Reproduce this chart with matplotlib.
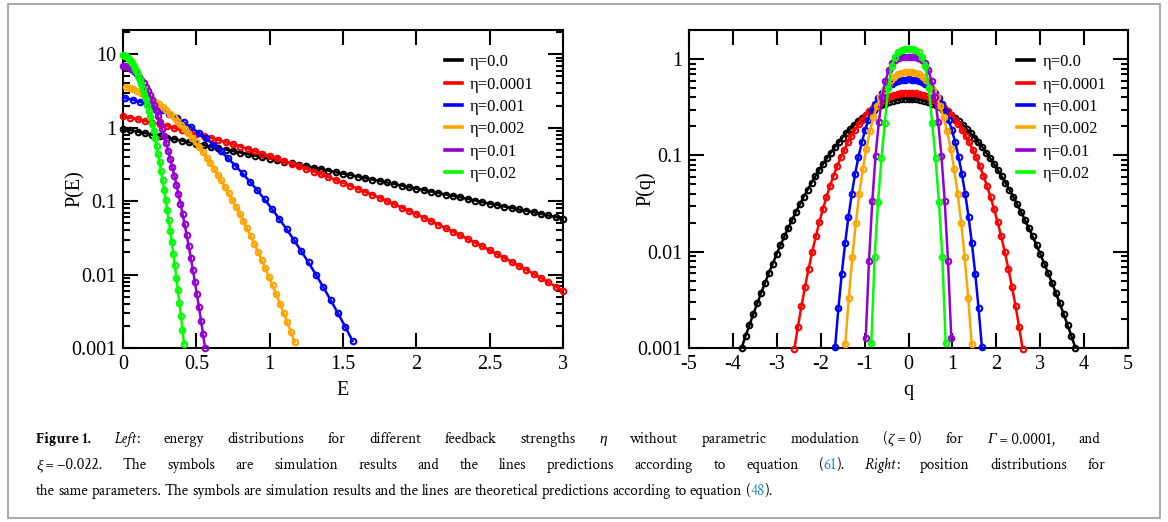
import numpy as np
import matplotlib
matplotlib.use('Agg')
import matplotlib.pyplot as plt
from matplotlib.lines import Line2D
from matplotlib.patches import Rectangle
from matplotlib.ticker import FixedLocator, LogLocator, NullFormatter, FuncFormatter

plt.rcParams['font.family'] = ['Liberation Serif', 'DejaVu Serif']

# ---- data ----
labels = ['η=0.0', 'η=0.0001', 'η=0.001', 'η=0.002', 'η=0.01', 'η=0.02']
colors = ['#000000', '#ff0000', '#0000ff', '#ffa500', '#9400d3', '#00ff00']

# left: energy distributions P(E), bins along E
e_black = np.linspace(0, 3, 61)
p_black = [0.968, 0.924, 0.882, 0.841, 0.803, 0.766, 0.731, 0.697, 0.666, 0.635, 0.606,
           0.578, 0.552, 0.526, 0.503, 0.479, 0.458, 0.436, 0.417, 0.397, 0.379,
           0.362, 0.345, 0.329, 0.315, 0.300, 0.287, 0.273, 0.261, 0.248, 0.237,
           0.227, 0.216, 0.206, 0.197, 0.188, 0.180, 0.171, 0.163, 0.155, 0.148,
           0.142, 0.135, 0.129, 0.123, 0.118, 0.113, 0.107, 0.102, 0.0970, 0.0926,
           0.0889, 0.0845, 0.0807, 0.0770, 0.0739, 0.0707, 0.0670, 0.0638, 0.0607, 0.0580]
e_red = np.linspace(0, 3, 61)
p_red = [1.439, 1.370, 1.303, 1.237, 1.173, 1.111, 1.050, 0.992, 0.935, 0.880,
         0.827, 0.777, 0.728, 0.682, 0.637, 0.594, 0.554, 0.516, 0.479, 0.445,
         0.412, 0.381, 0.352, 0.325, 0.300, 0.276, 0.253, 0.232, 0.213, 0.195,
         0.178, 0.162, 0.148, 0.134, 0.122, 0.111, 0.100, 0.0906, 0.0818, 0.0737,
         0.0664, 0.0597, 0.0536, 0.0480, 0.0430, 0.0384, 0.0343, 0.0306, 0.0272, 0.0242,
         0.0215, 0.0190, 0.0168, 0.0149, 0.0131, 0.0116, 0.0102, 0.00894, 0.00784, 0.00687,
         0.00601]
e_blue = np.linspace(0.015, 1.565, 32)
p_blue = [2.522, 2.401, 2.256, 2.092, 1.914, 1.729, 1.542, 1.357, 1.179, 1.011,
          0.855, 0.714, 0.589, 0.479, 0.385, 0.305, 0.239, 0.184, 0.141, 0.106,
          0.0785, 0.0575, 0.0416, 0.0297, 0.0209, 0.0146, 0.00999, 0.00677, 0.00452, 0.00299,
          0.00195, 0.00125]
e_orange = np.linspace(0.02, 1.17, 47)
p_orange = [3.591, 3.461, 3.317, 3.158, 2.989, 2.812, 2.630, 2.444, 2.258, 2.073,
            1.891, 1.715, 1.546, 1.385, 1.233, 1.092, 0.960, 0.840, 0.730, 0.630,
            0.541, 0.462, 0.392, 0.330, 0.277, 0.230, 0.191, 0.157, 0.128, 0.104,
            0.0841, 0.0675, 0.0539, 0.0427, 0.0337, 0.0264, 0.0205, 0.0159, 0.0122, 0.00935,
            0.00710, 0.00536, 0.00403, 0.00300, 0.00223, 0.00164, 0.00120]
e_purple = np.linspace(0, 0.56, 41)
p_purple = [6.92, 6.90, 6.80, 6.63, 6.39, 6.09, 5.74, 5.36, 4.94, 4.50,
            4.06, 3.615, 3.187, 2.779, 2.395, 2.042, 1.721, 1.435, 1.182, 0.964,
            0.777, 0.619, 0.488, 0.380, 0.293, 0.223, 0.168, 0.125, 0.0924, 0.0674,
            0.0486, 0.0346, 0.0244, 0.0170, 0.0117, 0.00798, 0.00538, 0.00358, 0.00236, 0.00154,
            0.00099]
e_green = np.linspace(0, 0.416, 41)
p_green = [9.77, 9.60, 9.34, 8.99, 8.55, 8.05, 7.50, 6.92, 6.30, 5.69,
           5.08, 4.48, 3.914, 3.383, 2.893, 2.447, 2.049, 1.696, 1.390, 1.126,
           0.903, 0.717, 0.563, 0.437, 0.336, 0.255, 0.192, 0.143, 0.105, 0.0765,
           0.0551, 0.0393, 0.0277, 0.0193, 0.0133, 0.00911, 0.00615, 0.00411, 0.00272, 0.00178,
           0.00115]

# right: position distributions P(q), symmetric -> values for q >= 0
q_black = np.linspace(0, 3.8, 44)
pq_black = [0.389, 0.388, 0.384, 0.378, 0.370, 0.359, 0.346, 0.332, 0.317, 0.300,
            0.282, 0.263, 0.245, 0.226, 0.207, 0.188, 0.171, 0.153, 0.137, 0.122,
            0.107, 0.0940, 0.0818, 0.0708, 0.0608, 0.0520, 0.0441, 0.0372, 0.0311, 0.0259,
            0.0214, 0.0176, 0.0144, 0.0117, 0.00939, 0.00752, 0.00598, 0.00473, 0.00372, 0.00290,
            0.00225, 0.00173, 0.00133, 0.00101]
q_red = np.linspace(0, 2.6, 33)
pq_red = [0.447, 0.445, 0.441, 0.433, 0.423, 0.410, 0.395, 0.377, 0.357, 0.335,
          0.311, 0.287, 0.261, 0.235, 0.210, 0.184, 0.160, 0.137, 0.115, 0.0953,
          0.0774, 0.0618, 0.0483, 0.0370, 0.0276, 0.0202, 0.0144, 0.00993, 0.00667, 0.00435,
          0.00274, 0.00167, 0.00098]
q_blue = np.linspace(0, 1.672, 23)
pq_blue = [0.617, 0.614, 0.607, 0.594, 0.576, 0.553, 0.522, 0.486, 0.444, 0.396,
           0.344, 0.290, 0.236, 0.184, 0.137, 0.0966, 0.0642, 0.0399, 0.0230, 0.0122,
           0.00594, 0.00260, 0.00102]
q_orange = np.linspace(0, 1.44, 19)
pq_orange = [0.741, 0.736, 0.721, 0.695, 0.658, 0.609, 0.550, 0.481, 0.405, 0.326,
             0.248, 0.178, 0.118, 0.0724, 0.0401, 0.0199, 0.00874, 0.00333, 0.00109]
q_purple = np.linspace(0, 0.975, 14)
pq_purple = [1.047, 1.047, 1.043, 1.027, 0.986, 0.904, 0.772, 0.595, 0.400, 0.224,
             0.0995, 0.0334, 0.00796, 0.00126]
q_green = np.linspace(0, 0.847, 12)
pq_green = [1.274, 1.268, 1.245, 1.175, 1.047, 0.851, 0.501, 0.219, 0.0933, 0.0331,
            0.00891, 0.00112]

e_series = [(e_black, p_black), (e_red, p_red), (e_blue, p_blue),
            (e_orange, p_orange), (e_purple, p_purple), (e_green, p_green)]
q_series = [(q_black, pq_black), (q_red, pq_red), (q_blue, pq_blue),
            (q_orange, pq_orange), (q_purple, pq_purple), (q_green, pq_green)]

W, H = 1168, 522
fig = plt.figure(figsize=(W / 100, H / 100), dpi=100)
fig.patch.set_facecolor('white')

axL = fig.add_axes([123 / W, 1 - 348 / H, 440 / W, 318 / H])
axR = fig.add_axes([689 / W, 1 - 348 / H, 439 / W, 318 / H])


def draw(ax, x, y, c):
    ax.plot(x, y, ls='none', marker='o', ms=4.0, mfc='none', mec=c, mew=1.5,
            clip_on=False, zorder=3)
    ax.plot(x, y, color=c, lw=1.8, zorder=3)


for (x, y), c in zip(e_series, colors):
    draw(axL, x, y, c)

for (x, y), c in zip(q_series, colors):
    x = np.asarray(x)
    y = np.asarray(y)
    xx = np.concatenate([-x[:0:-1], x])
    yy = np.concatenate([y[:0:-1], y])
    draw(axR, xx, yy, c)

fmt = FuncFormatter(lambda v, p: '%g' % v)
for ax in (axL, axR):
    ax.set_yscale('log')
    ax.yaxis.set_minor_locator(LogLocator(base=10, subs=np.arange(2, 10)))
    ax.yaxis.set_minor_formatter(NullFormatter())
    ax.yaxis.set_major_formatter(fmt)
    ax.xaxis.set_major_formatter(fmt)
    ax.tick_params(which='both', direction='in', top=True, right=True,
                   labelsize=14.5, width=1.5)
    ax.tick_params(which='major', length=10.5, pad=5)
    ax.tick_params(which='minor', length=5)
    for s in ax.spines.values():
        s.set_linewidth(1.5)

axL.set_xlim(0, 3)
axL.set_ylim(0.001, 21.4)
axL.xaxis.set_major_locator(FixedLocator([0, 0.5, 1, 1.5, 2, 2.5, 3]))
axL.yaxis.set_major_locator(FixedLocator([0.001, 0.01, 0.1, 1, 10]))
axL.set_xlabel('E', fontsize=14.5)
axL.set_ylabel('P(E)', fontsize=14.5)
axL.xaxis.set_label_coords(0.5, -0.105)
axL.yaxis.set_label_coords(-0.086, 0.5)

axR.set_xlim(-5, 5)
axR.set_ylim(0.001, 2.01)
axR.xaxis.set_major_locator(FixedLocator(np.arange(-5, 6)))
axR.yaxis.set_major_locator(FixedLocator([0.001, 0.01, 0.1, 1]))
axR.set_xlabel('q', fontsize=14.5)
axR.set_ylabel('P(q)', fontsize=14.5)
axR.xaxis.set_label_coords(0.5, -0.105)
axR.yaxis.set_label_coords(-0.077, 0.5)

handles = [Line2D([], [], color=c, lw=2.6) for c in colors]
for ax, x0 in ((axL, 0.732), (axR, 0.748)):
    ax.legend(handles, labels, loc='upper left', bbox_to_anchor=(x0, 0.924),
              frameon=False, fontsize=12, handlelength=1.0, handletextpad=0.5,
              labelspacing=0.38, borderpad=0, borderaxespad=0)

# ---- caption (justified like the journal layout) ----
renderer = fig.canvas.get_renderer()
cap_family = ['Crimson Text', 'Liberation Serif', 'DejaVu Serif']
styles = {'n': {}, 'b': {'fontweight': 'bold'}, 'i': {'fontstyle': 'italic'},
          'c': {'color': '#2b8ac8'}}
NB = '\u00a0'  # spaces inside formulas do not stretch


def width(s, fs, st):
    t = fig.text(0, 0, 'x' + s + 'x', fontsize=fs, family=cap_family, **styles[st])
    w1 = t.get_window_extent(renderer).width
    t.set_text('xx')
    w0 = t.get_window_extent(renderer).width
    t.remove()
    return w1 - w0


line1 = [('Figure' + NB + '1. ', 'b'), ('Left', 'i'),
         (': energy distributions for different feedback strengths ', 'n'), ('η', 'i'),
         (' without parametric modulation (', 'n'), ('ζ', 'i'),
         (NB + '=' + NB + '0) for ', 'n'),
         ('Γ', 'i'), (NB + '=' + NB + '0.0001, and', 'n')]
line2 = [('ξ', 'i'),
         (NB + '=' + NB + '−0.022. The symbols are simulation results and the lines predictions according to equation (', 'n'),
         ('61', 'c'), ('). ', 'n'), ('Right', 'i'), (': position distributions for', 'n')]
line3 = [('the same parameters. The symbols are simulation results and the lines are theoretical predictions according to equation (', 'n'),
         ('48', 'c'), (').', 'n')]

x_left = 36.0
fs = 12.0
fs = fs * 740 / sum(width(s, fs, st) for s, st in line3)


def caption_line(parts, yb, x_right=None):
    items = []
    for s, st in parts:
        pieces = s.split(' ')
        for i, w in enumerate(pieces):
            items.append((w, st, i < len(pieces) - 1))
    n_gaps = sum(1 for it in items if it[2])
    natural = sum(width(w, fs, st) + (width(' ', fs, st) if gap else 0)
                  for w, st, gap in items)
    extra = 0.0
    if x_right is not None and n_gaps:
        extra = (x_right - x_left - natural) / n_gaps
    x = x_left
    for w, st, gap in items:
        if w:
            fig.text(x / W, 1 - yb / H, w, fontsize=fs, family=cap_family,
                     ha='left', va='baseline', **styles[st])
            x += width(w, fs, st)
        if gap:
            x += width(' ', fs, st) + extra


caption_line(line1, 443, 1100)
caption_line(line2, 469, 1105)
caption_line(line3, 495)

fig.patches.append(Rectangle((8 / W, 1 - 518 / H), (1160 - 8) / W, (518 - 4) / H,
                             transform=fig.transFigure, fill=False,
                             edgecolor='#9a9a9a', linewidth=1.2))

fig.savefig('out.png', dpi=100)
